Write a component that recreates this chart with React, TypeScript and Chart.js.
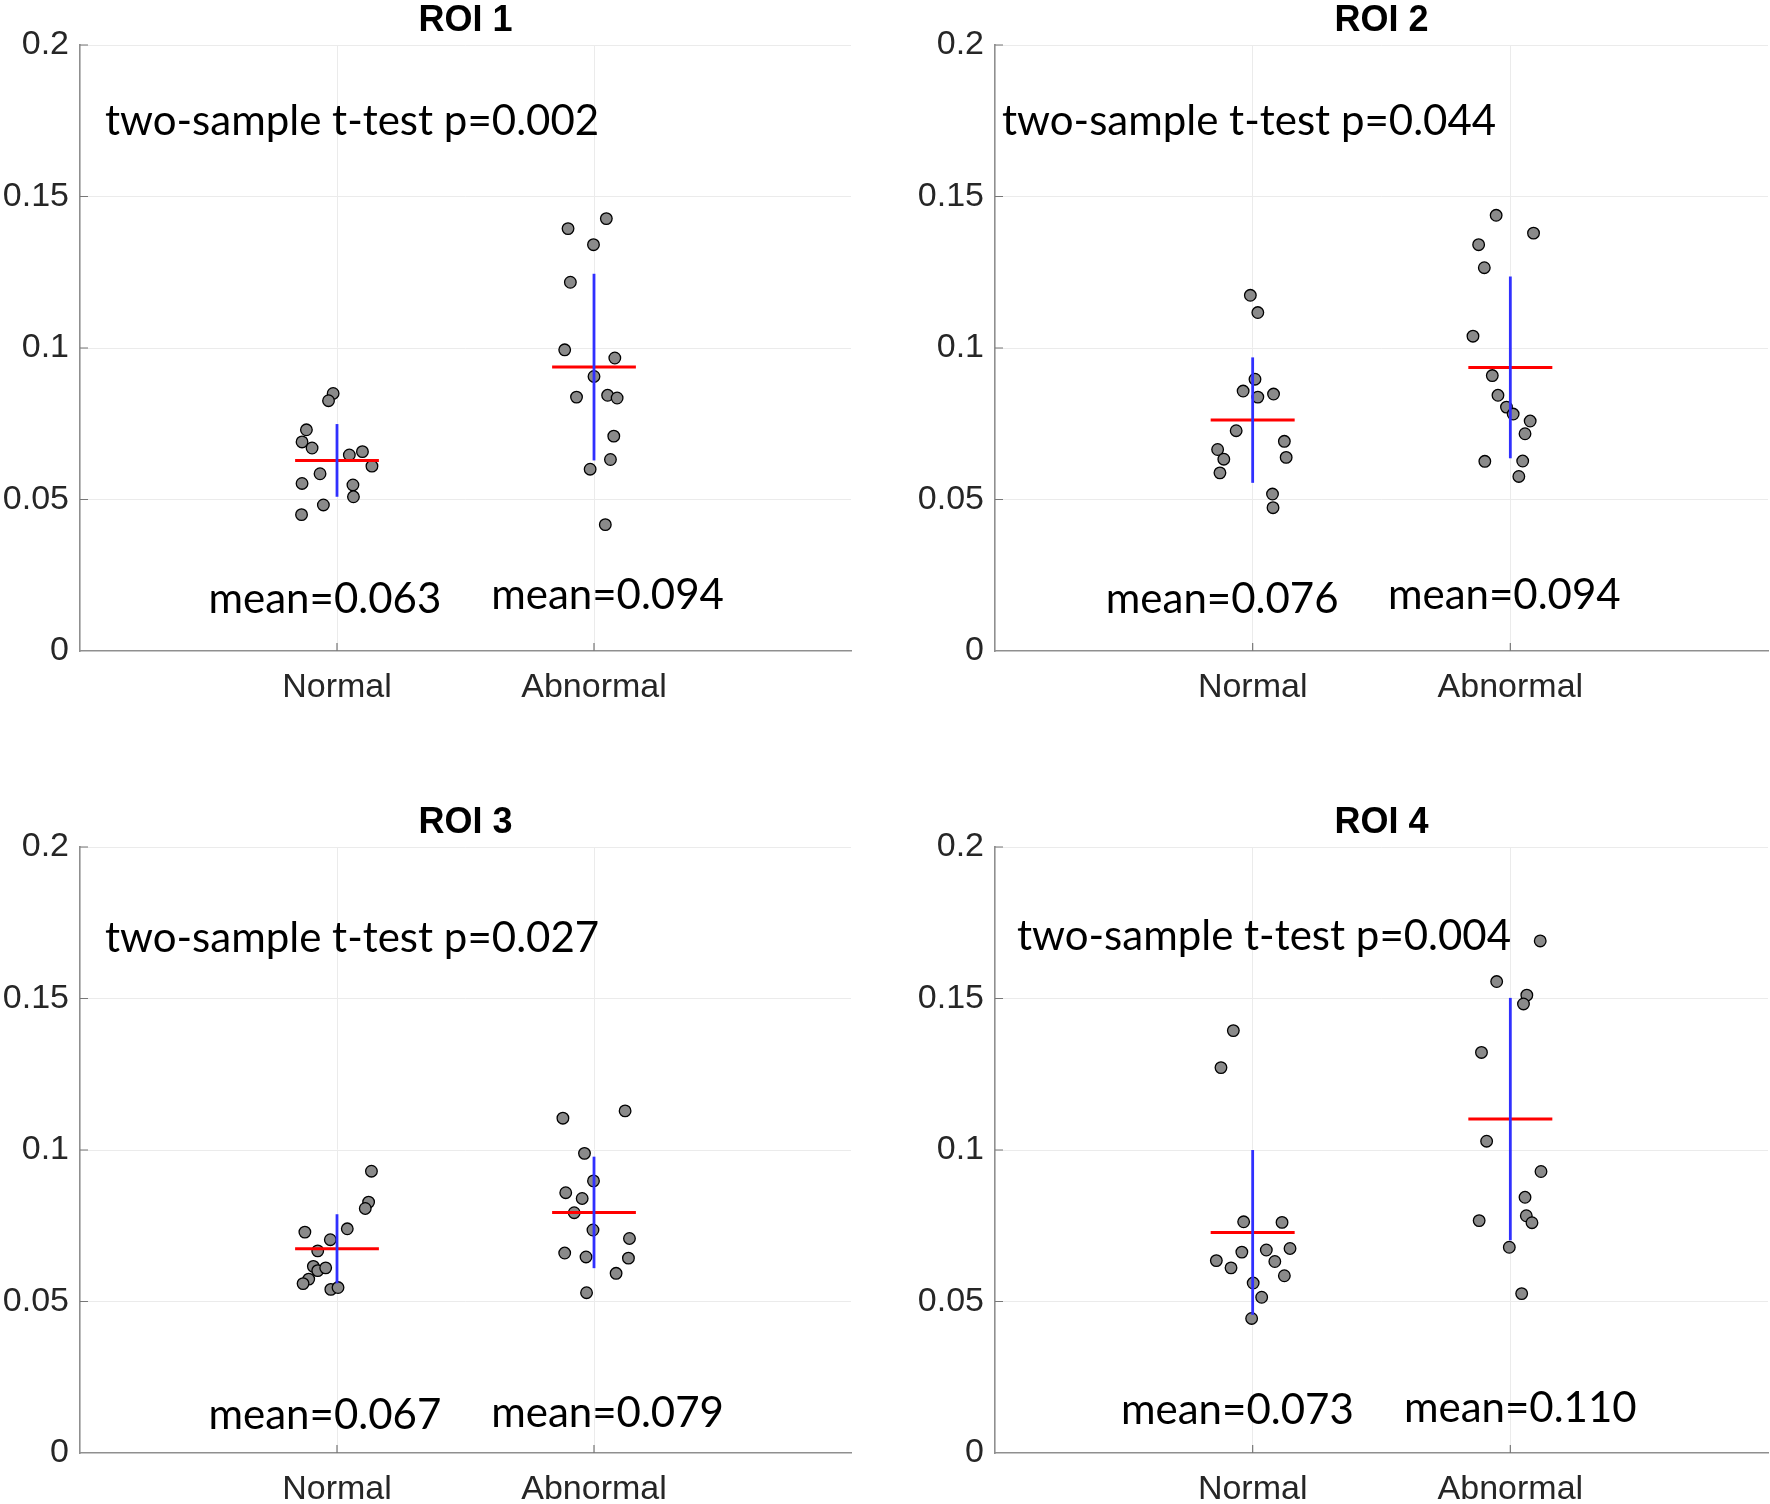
import React, { useEffect, useRef } from 'react';
import { Chart, registerables } from 'chart.js';

Chart.register(...registerables);

// ---------------- data ----------------
const categories = ['Normal', 'Abnormal'];
const roiTitles = ['ROI 1', 'ROI 2', 'ROI 3', 'ROI 4'];
const pValues = ['0.002', '0.044', '0.027', '0.004'];
const yTickValues = [0, 0.05, 0.1, 0.15, 0.2];

const roi1Normal = [0.085, 0.0826, 0.073, 0.069, 0.067, 0.0647, 0.0658, 0.061, 0.0585, 0.0553, 0.0548, 0.0509, 0.0482, 0.045];
const roi1NormalJitter = [-0.015, -0.033, -0.119, -0.136, -0.097, 0.048, 0.099, 0.136, -0.066, -0.136, 0.062, 0.064, -0.053, -0.138];
const roi1Abnormal = [0.1427, 0.1394, 0.1341, 0.1217, 0.0994, 0.0967, 0.0906, 0.0838, 0.0844, 0.0835, 0.0709, 0.0632, 0.06, 0.0417];
const roi1AbnormalJitter = [0.048, -0.101, -0.002, -0.092, -0.114, 0.081, 0, -0.068, 0.053, 0.09, 0.077, 0.064, -0.015, 0.044];

const roi2Normal = [0.1174, 0.1117, 0.0897, 0.0858, 0.0838, 0.0848, 0.0727, 0.0665, 0.0633, 0.0692, 0.0639, 0.0588, 0.0518, 0.0473];
const roi2NormalJitter = [-0.009, 0.02, 0.009, -0.037, 0.02, 0.081, -0.064, -0.136, -0.112, 0.123, 0.13, -0.127, 0.077, 0.079];
const roi2Abnormal = [0.1438, 0.1379, 0.1341, 0.1265, 0.1039, 0.0909, 0.0844, 0.0805, 0.0782, 0.0759, 0.0717, 0.0626, 0.0627, 0.0576];
const roi2AbnormalJitter = [-0.055, 0.09, -0.123, -0.101, -0.145, -0.07, -0.048, -0.015, 0.011, 0.077, 0.057, -0.099, 0.048, 0.033];

const roi3Normal = [0.093, 0.0828, 0.0807, 0.074, 0.0729, 0.0704, 0.0667, 0.0616, 0.0602, 0.0611, 0.0574, 0.0559, 0.054, 0.0546];
const roi3NormalJitter = [0.134, 0.123, 0.11, 0.04, -0.125, -0.026, -0.075, -0.092, -0.075, -0.044, -0.11, -0.132, -0.024, 0.004];
const roi3Abnormal = [0.1129, 0.1105, 0.0989, 0.0898, 0.0859, 0.084, 0.0793, 0.0736, 0.0708, 0.066, 0.0647, 0.0643, 0.0593, 0.0529];
const roi3AbnormalJitter = [0.121, -0.121, -0.037, -0.002, -0.11, -0.046, -0.077, -0.004, 0.138, -0.114, -0.031, 0.134, 0.086, -0.029];

const roi4Normal = [0.1394, 0.1272, 0.0763, 0.0761, 0.0663, 0.067, 0.0675, 0.0635, 0.0611, 0.0632, 0.0585, 0.0561, 0.0514, 0.0444];
const roi4NormalJitter = [-0.075, -0.123, -0.035, 0.114, -0.042, 0.053, 0.145, -0.141, -0.084, 0.086, 0.123, 0.002, 0.035, -0.004];
const roi4Abnormal = [0.169, 0.1556, 0.1511, 0.1482, 0.1322, 0.1029, 0.0929, 0.0844, 0.0767, 0.0783, 0.076, 0.0679, 0.0526];
const roi4AbnormalJitter = [0.116, -0.053, 0.064, 0.051, -0.112, -0.092, 0.119, 0.057, -0.121, 0.062, 0.084, -0.004, 0.044];

const normalMeans = [0.0629, 0.0762, 0.0674, 0.0728];
const abnormalMeans = [0.0937, 0.0936, 0.0794, 0.1102];
const normalSD = [0.012, 0.0207, 0.0114, 0.0272];
const abnormalSD = [0.0308, 0.03, 0.0184, 0.04];

const normalSets = [roi1Normal, roi2Normal, roi3Normal, roi4Normal];
const normalJitters = [roi1NormalJitter, roi2NormalJitter, roi3NormalJitter, roi4NormalJitter];
const abnormalSets = [roi1Abnormal, roi2Abnormal, roi3Abnormal, roi4Abnormal];
const abnormalJitters = [roi1AbnormalJitter, roi2AbnormalJitter, roi3AbnormalJitter, roi4AbnormalJitter];

// ---------------- layout / style ----------------
const AXIS_W = 80;
const TOP_PAD = 45;
const PANELS = [
  { left: 80, top: 45, right: 851, bottom: 651, bottomPad: 75, pText: [0.097, 0.1749], meanText: [[0.5, 0.017], [1.6, 0.0182]] },
  { left: 995, top: 45, right: 1768, bottom: 651, bottomPad: 75, pText: [0.027, 0.1749], meanText: [[0.43, 0.017], [1.525, 0.0182]] },
  { left: 80, top: 847, right: 851, bottom: 1453, bottomPad: 51, pText: [0.097, 0.1698], meanText: [[0.5, 0.0124], [1.6, 0.0132]] },
  { left: 995, top: 847, right: 1768, bottom: 1453, bottomPad: 51, pText: [0.085, 0.1706], meanText: [[0.489, 0.0139], [1.587, 0.0146]] },
];
const MEAN_HALF = 0.163;
const TICK_FONT = '"Liberation Sans", Arial, Helvetica, sans-serif';
const TEXT_FONT = 'Lato, "Open Sans", sans-serif';
const AXIS_COLOR = '#8f8f8f';
const GRID_COLOR = '#ebebeb';

const annotPlugin = {
  id: 'annot',
  beforeDatasetsDraw(chart: any) {
    const { ctx, chartArea, scales } = chart;
    const xs = scales.x;
    const ys = scales.y;
    ctx.save();
    ctx.strokeStyle = '#777777';
    ctx.lineWidth = 1.2;
    ctx.beginPath();
    yTickValues.forEach((v) => {
      if (v === 0) return;
      const py = ys.getPixelForValue(v);
      ctx.moveTo(chartArea.left, py);
      ctx.lineTo(chartArea.left + 8, py);
    });
    [1, 2].forEach((v) => {
      const px = xs.getPixelForValue(v);
      ctx.moveTo(px, chartArea.bottom);
      ctx.lineTo(px, chartArea.bottom - 8);
    });
    ctx.stroke();
    ctx.restore();
  },
  afterDatasetsDraw(chart: any, _args: any, opts: any) {
    const { ctx, chartArea, scales } = chart;
    const xs = scales.x;
    const ys = scales.y;
    ctx.save();
    // title
    ctx.fillStyle = '#000';
    ctx.font = `bold 36px ${TICK_FONT}`;
    ctx.textAlign = 'center';
    ctx.textBaseline = 'alphabetic';
    ctx.fillText(opts.title, (chartArea.left + chartArea.right) / 2, chartArea.top - 14);
    // p text
    ctx.font = `42px ${TEXT_FONT}`;
    ctx.textAlign = 'left';
    ctx.textBaseline = 'middle';
    ctx.fillText(opts.pText, xs.getPixelForValue(opts.pPos[0]), ys.getPixelForValue(opts.pPos[1]));
    // mean texts
    opts.meanTexts.forEach((t: string, i: number) => {
      const pos = opts.meanPos[i];
      ctx.fillText(t, xs.getPixelForValue(pos[0]), ys.getPixelForValue(pos[1]));
    });
    ctx.restore();
  },
};

function zeroPadding(s: any) {
  s.paddingLeft = 0;
  s.paddingRight = 0;
  s.paddingTop = 0;
  s.paddingBottom = 0;
}

function buildConfig(idx: number) {
  const panel = PANELS[idx];
  const groups = [
    { c: 1, vals: normalSets[idx], jit: normalJitters[idx], mean: normalMeans[idx], sd: normalSD[idx] },
    { c: 2, vals: abnormalSets[idx], jit: abnormalJitters[idx], mean: abnormalMeans[idx], sd: abnormalSD[idx] },
  ];
  const datasets: any[] = [];
  groups.forEach((g) => {
    datasets.push({
      type: 'scatter',
      data: g.vals.map((v, i) => ({ x: g.c + g.jit[i], y: v })),
      backgroundColor: '#8a8a8a',
      borderColor: '#000000',
      borderWidth: 1.3,
      pointRadius: 5.8,
      order: 3,
    });
  });
  groups.forEach((g) => {
    datasets.push({
      type: 'line',
      data: [
        { x: g.c - MEAN_HALF, y: g.mean },
        { x: g.c + MEAN_HALF, y: g.mean },
      ],
      borderColor: '#ff0000',
      borderWidth: 3,
      pointRadius: 0,
      fill: false,
      order: 2,
    });
  });
  groups.forEach((g) => {
    datasets.push({
      type: 'line',
      data: [
        { x: g.c, y: g.mean - g.sd },
        { x: g.c, y: g.mean + g.sd },
      ],
      borderColor: '#3030ff',
      borderWidth: 2.8,
      pointRadius: 0,
      fill: false,
      order: 1,
    });
  });

  return {
    type: 'scatter',
    data: { datasets },
    plugins: [annotPlugin],
    options: {
      animation: false,
      responsive: false,
      devicePixelRatio: 1,
      events: [],
      layout: { autoPadding: false, padding: { top: TOP_PAD, right: 2, left: 0, bottom: 0 } },
      plugins: {
        legend: { display: false },
        tooltip: { enabled: false },
        annot: {
          title: roiTitles[idx],
          pText: `two-sample t-test p=${pValues[idx]}`,
          pPos: panel.pText,
          meanTexts: [`mean=${normalMeans[idx].toFixed(3)}`, `mean=${abnormalMeans[idx].toFixed(3)}`],
          meanPos: panel.meanText,
        },
      },
      scales: {
        x: {
          type: 'linear',
          min: 0,
          max: 3,
          afterBuildTicks: (s: any) => {
            s.ticks = [0, 1, 2, 3].map((v) => ({ value: v }));
          },
          afterFit: (s: any) => {
            s.height = panel.bottomPad;
            zeroPadding(s);
          },
          ticks: {
            autoSkip: false,
            maxRotation: 0,
            padding: 16,
            color: '#262626',
            font: { family: TICK_FONT, size: 34 },
            callback: (v: number) => (v === 1 ? categories[0] : v === 2 ? categories[1] : ''),
          },
          grid: {
            drawTicks: false,
            lineWidth: 1,
            color: (ctx: any) => (ctx.tick && (ctx.tick.value === 1 || ctx.tick.value === 2) ? GRID_COLOR : 'rgba(0,0,0,0)'),
          },
          border: { display: true, color: AXIS_COLOR, width: 1.6 },
        },
        y: {
          type: 'linear',
          min: 0,
          max: 0.2,
          afterBuildTicks: (s: any) => {
            s.ticks = yTickValues.map((v) => ({ value: v }));
          },
          afterFit: (s: any) => {
            s.width = AXIS_W;
            zeroPadding(s);
          },
          ticks: {
            padding: 11,
            color: '#262626',
            font: { family: TICK_FONT, size: 34 },
            callback: (v: number) => String(Number(v.toFixed(2))),
          },
          grid: {
            drawTicks: false,
            lineWidth: 1,
            color: (ctx: any) => (ctx.tick && ctx.tick.value !== 0 ? GRID_COLOR : 'rgba(0,0,0,0)'),
          },
          border: { display: true, color: AXIS_COLOR, width: 1.6 },
        },
      },
    },
  };
}

function Panel({ idx }: { idx: number }) {
  const ref = useRef<HTMLCanvasElement | null>(null);
  const panel = PANELS[idx];
  const width = AXIS_W + (panel.right - panel.left) + 2;
  const height = TOP_PAD + (panel.bottom - panel.top) + panel.bottomPad;
  useEffect(() => {
    if (!ref.current) return;
    const chart = new Chart(ref.current, buildConfig(idx) as any);
    return () => chart.destroy();
  }, [idx]);
  return (
    <canvas
      ref={ref}
      width={width}
      height={height}
      style={{ position: 'absolute', left: panel.left - AXIS_W, top: panel.top - TOP_PAD, width, height }}
    />
  );
}

export default function App() {
  return (
    <div style={{ position: 'absolute', left: 0, top: 0, width: 1770, height: 1504, overflow: 'hidden', background: '#ffffff' }}>
      {PANELS.map((_, i) => (
        <Panel key={i} idx={i} />
      ))}
    </div>
  );
}
